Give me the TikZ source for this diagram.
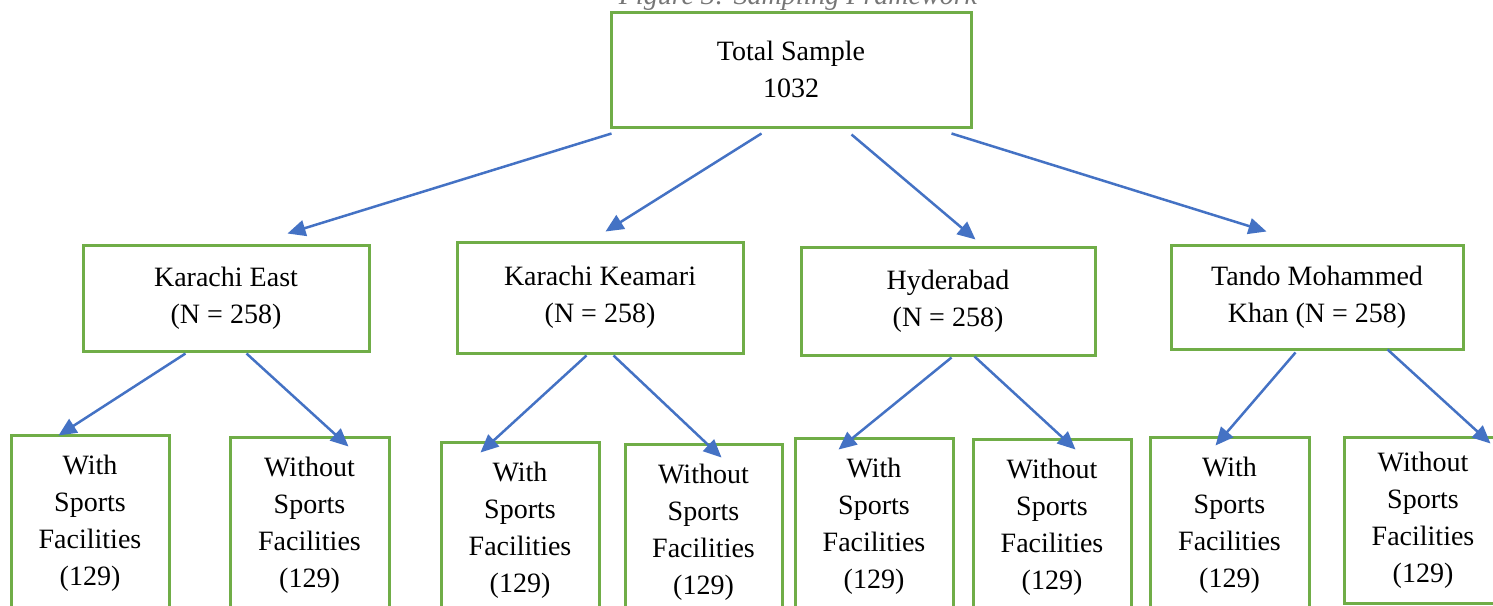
\documentclass[tikz,border=0pt]{standalone}
\usepackage{fontspec}
\setmainfont{Liberation Serif}
\usetikzlibrary{arrows.meta,calc}
\definecolor{boxgreen}{RGB}{112,173,71}
\definecolor{linkblue}{RGB}{68,114,196}
\definecolor{capgray}{RGB}{118,118,118}
\begin{document}
\begin{tikzpicture}[x=1pt,y=-1pt,
  every node/.style={font=\fontsize{28}{37}\selectfont},
  box/.style={draw=boxgreen,line width=3pt,align=center,inner sep=0pt},
  link/.style={draw=linkblue,line width=2.5pt,-{Triangle[length=18pt,width=16pt]}},
]
\useasboundingbox (0,0) rectangle (1493,605);
\clip (0,0) rectangle (1493,605);

% caption
\node[font=\fontsize{28}{37}\selectfont\itshape, text=capgray, anchor=base] (cap) at (798,5) {Figure 3: Sampling Framework};

% root
\node[box, minimum width=360pt, minimum height=115pt] (top) at (791,69.5) {Total Sample\\1032};

% districts
\node[box, minimum width=286pt, minimum height=106pt] (ke) at (226,298) {Karachi East\\(N = 258)};
\node[box, minimum width=286pt, minimum height=111pt] (kk) at (600,297.5) {Karachi Keamari\\(N = 258)};
\node[box, minimum width=294pt, minimum height=108pt] (hy) at (948,301) {Hyderabad\\(N = 258)};
\node[box, minimum width=292pt, minimum height=104pt] (tm) at (1317,297) {Tando Mohammed\\Khan (N = 258)};

% school groups
\node[box, minimum width=158pt, minimum height=176pt] (w1) at (90,523) {With\\Sports\\Facilities\\(129)};
\node[box, minimum width=159pt, minimum height=176pt] (w2) at (309.5,525) {Without\\Sports\\Facilities\\(129)};
\node[box, minimum width=158pt, minimum height=176pt] (w3) at (520,530) {With\\Sports\\Facilities\\(129)};
\node[box, minimum width=157pt, minimum height=176pt] (w4) at (703.5,532) {Without\\Sports\\Facilities\\(129)};
\node[box, minimum width=158pt, minimum height=176pt] (w5) at (874,526) {With\\Sports\\Facilities\\(129)};
\node[box, minimum width=158pt, minimum height=176pt] (w6) at (1052,527) {Without\\Sports\\Facilities\\(129)};
\node[box, minimum width=159pt, minimum height=176pt] (w7) at (1229.5,525) {With\\Sports\\Facilities\\(129)};
\node[box, minimum width=158pt, minimum height=166pt] (w8) at (1423,520) {Without\\Sports\\Facilities\\(129)};

% root to districts
\draw[link] ($(top.south west)+(2,5)$)   -- ($(ke.north west)+(206,-10)$);
\draw[link] ($(top.south west)+(152,5)$) -- ($(kk.north west)+(150,-9)$);
\draw[link] ($(top.south west)+(242,6)$) -- ($(hy.north west)+(176,-6)$);
\draw[link] ($(top.south west)+(342,5)$) -- ($(tm.north west)+(97,-12)$);

% districts to school groups
\draw[link] ($(ke.south west)+(104,1)$) -- ($(w1.north west)+(49,2)$);
\draw[link] ($(ke.south west)+(165,1)$) -- ($(w2.north west)+(120,11)$);
\draw[link] ($(kk.south west)+(131,1)$) -- ($(w3.north west)+(41,12)$);
\draw[link] ($(kk.south west)+(158,1)$) -- ($(w4.north west)+(98,15)$);
\draw[link] ($(hy.south west)+(152,1)$) -- ($(w5.north west)+(45,13)$);
\draw[link] ($(hy.south west)+(175,0)$) -- ($(w6.north west)+(104,12)$);
\draw[link] ($(tm.south west)+(126,2)$) -- ($(w7.north west)+(67,10)$);
\draw[link] ($(tm.south west)+(218,-1)$) -- ($(w8.north west)+(148,8)$);
\end{tikzpicture}
\end{document}
